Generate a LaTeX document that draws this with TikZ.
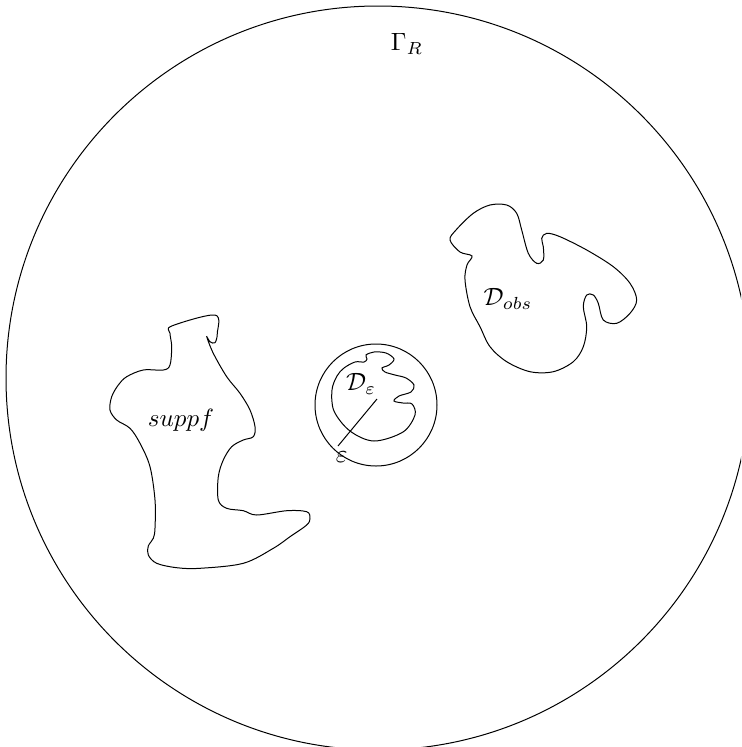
\documentclass[tikz,border=0pt]{standalone}
\usepackage{amsmath,amssymb}
\usetikzlibrary{positioning}

\begin{document}
\begin{tikzpicture}[x=0.4pt, y=-0.4pt,
    blob/.style={smooth cycle, tension=0.55},
    lbl/.style={inner sep=1pt}]
  \useasboundingbox (0,0) rectangle (741,747);
  \clip (0,0) rectangle (741,747);
  % outer circle and its label
  \coordinate (bigc) at (378,378);
  \draw (bigc) circle[radius=372];
  \node[lbl] (gam) at (407,44) {$\Gamma_R$};
  % support of f
  \draw[blob] plot coordinates {(171.7,326) (215,315) (217.3,333.3) (215,342.7)
    (210,341.7) (206.7,336.7) (213.3,353.3) (226.7,376.7) (240,393.3) (250,410)
    (255,426.7) (253.3,436.7) (243.3,440) (231.7,446.7) (223.3,460) (218.3,476.7)
    (218.3,500) (226.7,508.3) (243.3,510.7) (256.7,515) (286.7,510.7) (306.7,511.7)
    (310,518.3) (306.7,525) (290,536.7) (273.3,548.3) (243.3,563.3) (200,568.3)
    (176.7,567.7) (156.7,563.3) (148.3,555) (148.3,546) (153.3,538.3) (155,528)
    (155,500) (150,466.7) (140,443.3) (130,428.3) (116.7,420) (110,410) (111.7,396.7)
    (118.3,385) (126.7,376.7) (143.3,370) (163.3,370) (170,365) (171.7,346.7)
    (170,333.3)};
  \node[lbl] (supp) at (181,420) {$suppf$};
  % obstacle
  \draw[blob] plot coordinates {(450,240) (456,230) (473.3,213.3) (490,205)
    (506.7,205) (516.7,213.3) (521.7,230) (528.3,253.3) (536.7,263.3) (543.3,260)
    (543.3,246.7) (541.7,238.3) (546.7,233.3) (560,236.7) (586.7,250) (613.3,266.7)
    (630,283.3) (636.7,300) (630,313.3) (616.7,323.3) (603.3,320) (598.3,303.3)
    (593.3,295) (586.7,295) (583.3,306.7) (586.7,326.7) (583.3,346.7) (573.3,361.7)
    (553.3,371.7) (530,371.7) (506.7,361.7) (490,346.7) (480,326.7) (470,306.7)
    (465,280) (467,265) (472,256) (460,252)};
  \node[lbl] (obs) at (508,299) {$\mathcal{D}_{obs}$};
  % small domain and its eps-neighbourhood
  \coordinate (epsc) at (376,405);
  \draw (epsc) circle[radius=61];
  \draw[blob] plot coordinates {(344,368) (355,362) (364,362) (367,359) (366,355)
    (374,352) (386,353) (394,359) (389,365) (382,368) (385,372) (395,375)
    (406,378) (414,385) (411,392) (399,396) (394,401) (403,403) (412,404)
    (415,415) (403,432) (374,441) (350,431) (334,411) (332,390) (337,376)};
  \node[lbl] (deps) at (361,384) {$\mathcal{D}_\varepsilon$};
  \coordinate (rin) at (377,399);
  \coordinate (rout) at (338,446);
  \draw (rin) -- (rout);
  \node[lbl, below=1pt of rout, xshift=1.5pt] (eps) {$\varepsilon$};
\end{tikzpicture}
\end{document}
